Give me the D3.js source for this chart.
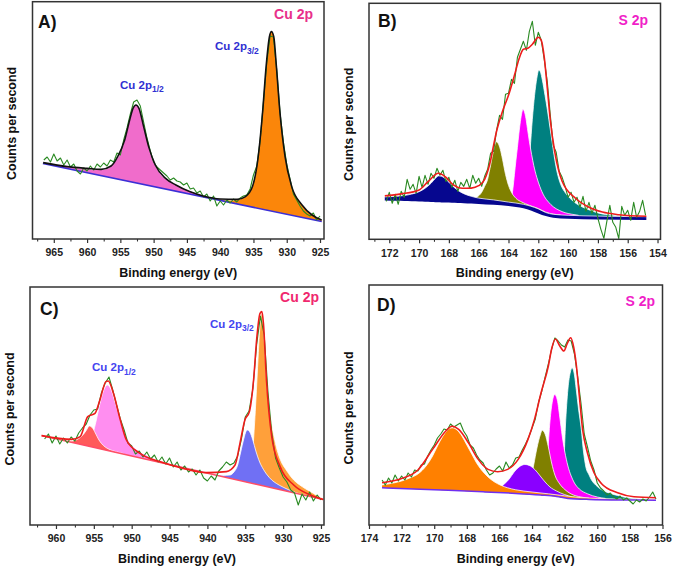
<!DOCTYPE html>
<html><head><meta charset="utf-8">
<script src="https://cdn.jsdelivr.net/npm/d3@7"></script>
<style>
body{margin:0;background:#fff}
svg{display:block}
text{font-family:"Liberation Sans",Arial,sans-serif}
</style>
</head><body>
<svg id="chart" width="675" height="568"></svg>
<script>
// ---------------- DATA (binding energy eV, intensity a.u.) ----------------
// Panel A : Cu 2p
const ticksA = [965,960,955,950,945,940,935,930,925];
const aBackground = [[966.64,37.8],[924.74,8.7]];
const aPink = [[966.6,38.2],[964,36.9],[962,35.7],[960,34.9],[958,34.5],[957,35.0],[956.2,37.0],[955.3,41.0],[954.4,48.5],[953.9,55.0],[953.4,62.0],[953.0,65.8],[952.65,67.0],[952.3,66.0],[951.9,62.0],[951.4,55.0],[950.9,48.0],[950.4,41.5],[949.8,37.0],[948.9,32.0],[948.0,29.5],[947.0,27.6],[946.0,26.0],[945.0,24.5],[944.0,23.2],[943.0,22.0],[942.0,21.0],[941.0,20.1],[940.0,19.4],[938.0,18.0],[936.0,16.6],[934.0,15.2],[932.0,13.8],[930.0,12.4],[928.0,11.0],[924.75,8.9]];
const aOrange = [[942.5,21.0],[941,20.2],[940,19.7],[938.5,19.2],[937.45,19.5],[936.6,20.3],[936.0,21.6],[935.5,23.5],[935.15,26.0],[934.75,31.5],[934.35,39.3],[934.0,50.0],[933.6,64.3],[933.1,86.0],[932.6,101.0],[932.3,103.5],[931.95,101.0],[931.55,86.0],[931.05,64.3],[930.65,51.0],[930.25,41.0],[929.75,32.5],[929.25,26.0],[928.5,20.8],[927.7,16.9],[927.0,14.3],[926.2,11.9],[925.5,10.5],[924.75,9.4]];
const aEnvelope = [[966.6,38.2],[963.0,36.2],[960,35.3],[957.9,34.8],[956.4,36.5],[955.4,41.2],[954.35,49.5],[953.6,59.5],[953.1,65.3],[952.65,67.0],[952.2,65.3],[951.5,56.2],[950.75,46.2],[949.75,37.0],[948.2,30.3],[946.65,27.0],[944.6,23.7],[942.55,21.5],[940.0,20.0],[937.45,19.8],[936.2,21.2],[935.15,26.2],[934.35,39.5],[933.6,64.5],[933.1,86.2],[932.6,101.2],[932.3,103.7],[931.95,101.2],[931.55,86.2],[931.05,64.5],[930.25,41.2],[929.25,26.2],[927.7,17.0],[926.2,12.0],[924.75,9.5]];
const rawAStart = 966.5, rawAStep = 0.5;
const rawA = [39.5,41.0,38.5,42.5,39.0,40.5,37.0,39.5,36.0,37.5,
34.0,32.5,35.5,34.0,36.5,34.5,37.5,36.0,38.0,36.5,
39.5,38.5,43.0,42.0,49.5,55.5,62.5,68.5,69.5,66.5,
58.5,50.5,44.0,38.5,36.0,34.5,33.0,31.5,29.5,30.5,
29.0,28.5,27.0,28.0,25.0,25.5,23.0,24.0,21.0,22.5,
19.0,21.5,16.5,19.0,17.0,19.5,18.0,20.0,18.5,20.5,
21.5,22.0,25.0,32.0,36.5,49.0,68.5,88.0,101.5,101.0,
84.5,63.0,48.5,37.5,30.0,22.5,19.5,16.5,14.0,12.5,
11.5,13.0,9.5,11.5];

// Panel B : S 2p
const ticksB = [172,170,168,166,164,162,160,158,156,154];
const bBackground = [[172.3,21.0],[170,20.5],[168,19.9],[166,19.3],[164.5,18.6],[163.5,17.8],[162.8,16.8],[162.2,15.2],[161.7,13.6],[161.2,12.6],[160.5,12.0],[159,11.6],[157,11.4],[154.75,11.2]];
const bNavyBase = [[172.3,19.4],[170,18.9],[168,18.3],[166,17.7],[164.5,17.0],[163.5,16.2],[162.8,15.2],[162.2,13.6],[161.7,12.0],[161.2,11.0],[160.5,10.4],[159,10.0],[157,9.8],[154.75,9.6]];
const bNavy = [[172.3,21.2],[171.5,21.5],[171.0,21.9],[170.5,22.6],[170.0,23.8],[169.6,25.5],[169.2,28.0],[168.9,30.5],[168.7,31.7],[168.5,31.5],[168.2,30.0],[167.8,27.0],[167.4,24.5],[167.0,22.8],[166.5,21.5],[166.0,20.6],[165.0,19.7],[164.0,18.6],[163.0,17.5],[162.0,15.2],[161.5,13.4],[161.0,12.5],[160.0,12.0],[158.0,11.6],[154.75,11.3]];
const bOlive = [[167.0,19.8],[166.5,20.2],[166.1,21.2],[165.8,23.5],[165.6,26.5],[165.4,30.0],[165.3,33.5],[165.2,37.0],[165.1,41.0],[165.0,44.5],[164.9,47.5],[164.8,48.8],[164.7,48.0],[164.55,45.0],[164.4,40.0],[164.2,32.5],[164.0,27.0],[163.8,23.5],[163.5,20.5],[163.1,18.6],[162.6,17.0],[162.0,15.4],[161.5,13.6],[161.0,12.6],[160.5,12.2]];
const bMagenta = [[164.1,18.3],[163.9,18.9],[163.8,20.5],[163.7,25.5],[163.6,32.5],[163.5,39.5],[163.4,46.0],[163.3,53.0],[163.2,59.0],[163.1,63.5],[163.03,65.0],[162.93,63.8],[162.83,60.5],[162.73,55.5],[162.6,49.0],[162.45,42.5],[162.3,36.8],[162.1,31.0],[161.9,26.5],[161.6,21.5],[161.3,18.5],[161.0,16.3],[160.6,14.5],[160.2,13.3],[159.8,12.6],[159.3,12.0]];
const bTeal = [[163.3,17.6],[163.1,18.5],[162.9,22.0],[162.8,27.0],[162.65,37.0],[162.55,45.0],[162.4,60.0],[162.25,72.0],[162.1,80.5],[161.96,84.7],[161.85,83.5],[161.73,79.7],[161.55,72.0],[161.39,64.7],[161.2,55.0],[161.06,48.0],[160.9,40.0],[160.72,33.0],[160.5,27.5],[160.16,23.0],[159.8,20.0],[159.48,18.0],[159.0,16.0],[158.58,14.7],[158.0,13.2],[157.0,12.0],[156.0,11.5]];
const bEnvelope = [[172.3,21.7],[171.2,22.7],[170.0,24.7],[169.4,28.8],[168.7,33.0],[168.25,31.3],[167.7,27.2],[167.1,25.5],[166.5,25.6],[166.0,26.8],[165.6,30.0],[165.2,39.5],[165.0,47.0],[164.8,54.0],[164.4,64.0],[164.0,72.0],[163.6,82.0],[163.3,90.0],[163.0,95.0],[162.7,95.5],[162.4,97.5],[162.0,101.0],[161.8,99.5],[161.6,91.0],[161.4,76.0],[161.2,60.0],[160.9,44.0],[160.4,29.0],[159.5,20.5],[158.6,16.0],[157.7,13.6],[156.6,12.3],[154.75,11.5]];
const rawBStart = 172.2, rawBStep = 0.2;
const rawB = [19.0,23.5,18.0,22.5,17.5,24.0,21.0,30.0,25.0,27.5,
23.0,31.5,26.0,32.0,27.5,33.0,30.5,35.5,32.0,34.5,
29.0,31.0,26.0,29.5,24.0,28.5,26.5,30.0,25.5,32.0,
28.0,30.5,26.5,31.5,35.0,43.0,44.0,54.5,62.0,60.0,
72.5,73.0,80.0,78.0,91.0,95.0,99.0,94.5,104.0,109.0,
97.0,103.5,99.5,90.0,79.0,62.5,47.0,43.5,34.0,31.0,
26.5,21.0,23.5,18.5,21.0,16.0,21.5,14.0,18.5,13.0,
17.0,10.5,5.0,0.5,9.0,17.0,8.5,6.0,0.3,16.5,
12.0,14.5,9.5,18.5,11.0,14.0,19.5,12.0];

// Panel C : Cu 2p
const ticksC = [960,955,950,945,940,935,930,925];
const cBackground = [[961.9,44.7],[924.7,12.8]];
const cRed = [[958.5,42.0],[958.2,41.7],[957.6,42.2],[957.0,43.2],[956.5,44.8],[956.0,47.3],[955.6,49.5],[955.2,48.6],[954.8,46.0],[954.4,43.0],[954.0,40.8],[953.5,39.0],[953.0,37.9],[952.5,37.1],[952.0,36.6],[951.0,35.6]];
const cPink = [[957.0,40.6],[956.0,40.5],[955.5,42.0],[955.1,46.0],[954.7,52.0],[954.3,59.0],[953.9,65.0],[953.5,69.0],[953.2,70.0],[952.9,69.0],[952.6,66.5],[952.2,61.5],[951.8,56.5],[951.5,52.5],[951.1,47.5],[950.7,44.0],[950.2,41.0],[949.7,38.8],[949.0,36.8],[948.0,34.8],[947.0,33.0],[946.0,31.8],[945.0,30.8],[943.0,29.0],[941.0,27.2],[939.0,25.5]];
const cBlue = [[939.0,25.3],[938.0,24.8],[937.0,25.0],[936.5,26.5],[936.0,30.0],[935.6,36.5],[935.2,43.0],[934.9,46.8],[934.7,47.5],[934.4,46.5],[934.0,42.5],[933.6,37.0],[933.1,31.5],[932.6,27.8],[932.2,25.5],[931.5,22.5],[930.9,20.8],[930.0,18.9],[929.2,17.5],[928.0,15.8],[927.0,14.9]];
const cOrange = [[936.0,22.8],[935.0,23.5],[934.5,26.0],[934.2,31.0],[933.9,43.0],[933.6,62.0],[933.3,84.0],[933.05,100.0],[932.85,105.8],[932.65,101.0],[932.45,90.0],[932.2,73.0],[931.95,62.0],[931.7,55.0],[931.3,46.0],[930.9,39.0],[930.4,33.0],[929.5,27.0],[928.6,22.5],[927.8,20.0],[927.0,18.0],[926.0,15.8],[925.2,14.0],[924.7,13.2]];
const cEnvelope = [[961.9,44.7],[957.9,42.8],[956.8,44.2],[955.8,54.2],[954.85,55.8],[954.2,62.5],[953.4,71.7],[953.1,72.0],[952.4,65.8],[951.5,52.5],[950.7,42.5],[948.9,35.8],[946.3,31.7],[943.2,28.3],[940.1,26.2],[937.5,26.7],[936.35,30.0],[935.7,40.8],[935.05,52.5],[934.45,56.7],[933.9,72.5],[933.5,92.5],[933.05,105.8],[932.8,106.7],[932.6,100.8],[932.2,72.5],[931.5,44.2],[930.4,29.2],[928.6,20.0],[926.4,15.0],[924.7,12.8]];
const rawCStart = 961.5, rawCStep = 0.5;
const rawC = [43.0,45.5,41.0,44.5,40.5,43.5,41.0,44.0,42.0,46.0,
48.5,50.5,55.0,57.5,58.0,66.0,71.0,74.0,67.5,60.0,
53.0,47.5,41.0,39.5,35.5,37.0,34.0,36.5,33.0,35.0,
31.5,34.0,30.5,33.5,29.0,31.5,27.5,29.5,26.5,28.0,
25.0,27.5,23.5,22.0,24.5,22.5,27.0,29.0,31.5,30.0,
31.0,34.5,43.0,54.0,57.0,68.0,90.0,104.5,95.0,66.5,
46.0,33.5,28.5,24.0,21.5,17.5,16.0,10.0,15.5,12.5,
16.5,12.0,15.0,12.5];

// Panel D : S 2p
const ticksD = [174,172,170,168,166,164,162,160,158,156];
const dBackground = [[173.2,18.6],[170.0,17.6],[167.0,16.6],[165.0,15.8],[163.5,15.0],[162.5,14.3],[161.8,13.3],[160.5,12.8],[158.0,12.5],[156.4,12.4]];
const dOrange = [[173.2,20.0],[172.5,21.0],[172.0,22.0],[171.5,23.5],[171.0,25.5],[170.5,29.5],[170.1,34.5],[169.8,39.5],[169.5,44.0],[169.2,47.3],[168.9,48.6],[168.6,47.5],[168.3,44.4],[168.0,40.0],[167.7,35.5],[167.4,31.0],[167.1,27.5],[166.7,24.0],[166.3,21.5],[165.9,19.8],[165.5,18.6],[165.0,17.6],[164.0,16.5],[163.0,15.6],[162.0,14.6],[161.0,13.7],[160.0,13.3],[158.0,12.9],[156.4,12.7]];
const dPurple = [[166.5,17.2],[166.0,18.5],[165.7,20.5],[165.4,23.0],[165.1,26.5],[164.8,29.0],[164.44,30.25],[164.1,29.5],[163.8,27.5],[163.5,24.5],[163.2,21.5],[162.9,19.0],[162.5,17.0],[162.0,15.2],[161.5,14.0],[161.0,13.3]];
const dOlive = [[164.6,16.5],[164.3,19.0],[164.1,22.0],[163.9,30.0],[163.7,38.5],[163.5,45.0],[163.38,47.4],[163.2,45.5],[163.0,39.0],[162.8,31.0],[162.6,25.0],[162.3,20.5],[162.0,17.8],[161.6,15.5],[161.0,14.0],[160.5,13.4]];
const dMagenta = [[163.4,16.0],[163.2,20.0],[163.05,35.0],[162.9,52.0],[162.75,62.0],[162.61,65.25],[162.45,62.5],[162.3,54.0],[162.15,44.5],[162.0,37.0],[161.8,29.5],[161.6,24.5],[161.4,21.0],[161.1,18.0],[160.6,15.6],[160.0,14.0],[159.5,13.3]];
const dTeal = [[162.3,15.0],[162.1,22.0],[161.95,50.0],[161.8,68.0],[161.65,76.5],[161.55,78.6],[161.4,75.0],[161.29,67.75],[161.15,58.0],[160.98,47.75],[160.85,37.0],[160.7,29.0],[160.5,25.0],[160.37,22.75],[160.1,20.0],[159.76,17.75],[159.3,16.0],[158.75,14.75],[158.14,13.6],[157.5,13.0]];
const dEnvelope = [[173.2,21.1],[172.0,23.2],[171.0,27.5],[170.1,37.8],[169.3,46.9],[168.9,49.4],[168.5,47.8],[167.9,41.1],[167.3,32.8],[166.7,27.8],[166.1,26.6],[165.5,27.8],[164.85,32.8],[164.25,42.8],[163.85,52.8],[163.45,66.0],[163.0,79.5],[162.8,88.0],[162.57,93.0],[162.3,89.5],[162.05,87.0],[161.85,90.5],[161.63,93.6],[161.45,89.0],[161.3,81.0],[161.1,64.4],[160.9,47.8],[160.6,36.0],[160.2,26.1],[159.75,20.8],[158.75,16.1],[157.75,14.1],[156.4,13.6]];
const rawDStart = 173.2, rawDStep = 0.2;
const rawD = [22.5,20.0,23.5,21.0,25.0,22.0,24.5,22.5,26.0,24.0,
27.5,27.0,30.0,30.5,34.5,37.5,40.0,43.5,45.5,48.0,
47.5,50.5,49.0,50.0,51.0,47.0,44.5,40.0,38.5,35.0,
32.5,31.0,27.5,25.0,26.0,28.0,29.5,27.0,31.5,28.5,
30.0,33.5,34.0,37.5,40.5,44.0,48.5,53.0,61.5,67.0,
74.0,80.5,88.0,93.5,92.0,90.0,89.0,92.5,92.0,85.5,
74.0,61.0,45.5,39.0,32.0,27.5,21.0,18.5,17.0,15.0,
16.0,14.0,13.0,14.5,12.5,13.5,12.0,10.5,12.5,11.5,
13.0,12.0,14.0,16.5,13.0];

// ---------------- RENDERING ----------------
const seq = (start, step, vals) => vals.map((v, i) => [+(start - i * step).toFixed(3), v]);

const panels = [
  { id:"A", left:32.5, right:324, top:1.7, bottom:239, domain:[968.2,924.4], vmax:118.65,
    ticks:ticksA, minorStep:2.5, bg:aBackground,
    comps:[{data:aOrange, color:"#fb860a"},{data:aPink, color:"#f06ccb"}],
    bgLine:"#3b2fd6", outline:false, raw:seq(rawAStart,rawAStep,rawA), env:aEnvelope, envColor:"#111",
    letter:"A)", letterPos:[38,28],
    title:{text:"Cu 2p", x:313, y:19, color:"#e8308a"},
    peaks:[{main:"Cu 2p", sub:"3/2", x:215, y:50},{main:"Cu 2p", sub:"1/2", x:120, y:88.5}], peakColor:"#3030d2" },
  { id:"B", left:369, right:660.5, top:3.3, bottom:239.3, domain:[173.36,153.8], vmax:118,
    ticks:ticksB, minorStep:1, bg:bBackground,
    comps:[{data:bTeal, color:"#008080"},{data:bMagenta, color:"#ff00ff"},{data:bOlive, color:"#808000"},{data:bNavy, color:"#06078f", base:bNavyBase}],
    bgLine:null, outline:true, raw:seq(rawBStart,rawBStep,rawB), env:bEnvelope, envColor:"#ee1c1c",
    letter:"B)", letterPos:[378,27],
    title:{text:"S 2p", x:648, y:24.5, color:"#f01fc8"}, peaks:[] },
  { id:"C", left:30, right:324, top:287, bottom:525, domain:[963.43,924.6], vmax:119,
    ticks:ticksC, minorStep:2.5, bg:cBackground,
    comps:[{data:cOrange, color:"#ffa03a"},{data:cBlue, color:"#7070f4"},{data:cPink, color:"#ff8ef0"},{data:cRed, color:"#ff5a5a"}],
    bgLine:"#ff4d66", outline:true, raw:seq(rawCStart,rawCStep,rawC), env:cEnvelope, envColor:"#ee1c1c",
    letter:"C)", letterPos:[40,315],
    title:{text:"Cu 2p", x:319, y:302, color:"#f0286e"},
    peaks:[{main:"Cu 2p", sub:"3/2", x:210, y:327.5},{main:"Cu 2p", sub:"1/2", x:92, y:371}], peakColor:"#4444f0" },
  { id:"D", left:369, right:662.5, top:285, bottom:525, domain:[174,156], vmax:120,
    ticks:ticksD, minorStep:1, bg:dBackground,
    comps:[{data:dTeal, color:"#008080"},{data:dMagenta, color:"#ff00ff"},{data:dOlive, color:"#808000"},{data:dPurple, color:"#8a00ff"},{data:dOrange, color:"#ff8000"}],
    bgLine:"#6f2ff0", outline:true, raw:seq(rawDStart,rawDStep,rawD), env:dEnvelope, envColor:"#ee1c1c",
    letter:"D)", letterPos:[377,311],
    title:{text:"S 2p", x:655, y:306, color:"#f01fc8"}, peaks:[] }
];

const svg = d3.select("#chart");
const pieceScale = arr => d3.scaleLinear().domain(arr.map(d => d[0])).range(arr.map(d => d[1])).clamp(true);

panels.forEach(p => {
  const x = d3.scaleLinear().domain(p.domain).range([p.left, p.right]);
  const y = d3.scaleLinear().domain([0, p.vmax]).range([p.bottom, p.top]);
  const g = svg.append("g");
  const clipId = "clip-" + p.id;
  g.append("clipPath").attr("id", clipId).append("rect")
    .attr("x", p.left).attr("y", p.top).attr("width", p.right - p.left).attr("height", p.bottom - p.top);
  const plot = g.append("g").attr("clip-path", `url(#${clipId})`);
  const bgS = pieceScale(p.bg);

  p.comps.forEach(c => {
    const baseS = c.base ? pieceScale(c.base) : bgS;
    const area = d3.area().x(d => x(d[0])).y0(d => y(baseS(d[0]))).y1(d => y(d[1])).curve(d3.curveMonotoneX);
    plot.append("path").datum(c.data).attr("d", area).attr("fill", c.color);
    if (p.outline) {
      const ln = d3.line().x(d => x(d[0])).y(d => y(d[1])).curve(d3.curveMonotoneX);
      plot.append("path").datum(c.data).attr("d", ln).attr("fill", "none")
        .attr("stroke", "#fff").attr("stroke-width", 0.9).attr("stroke-opacity", 0.85);
    }
  });

  if (p.bgLine) {
    plot.append("path").datum(p.bg)
      .attr("d", d3.line().x(d => x(d[0])).y(d => y(d[1])).curve(d3.curveMonotoneX))
      .attr("fill", "none").attr("stroke", p.bgLine).attr("stroke-width", 1.5);
  }
  plot.append("path").datum(p.raw)
    .attr("d", d3.line().x(d => x(d[0])).y(d => y(d[1])))
    .attr("fill", "none").attr("stroke", "#2a8a22").attr("stroke-width", 1.1).attr("stroke-linejoin", "round");
  plot.append("path").datum(p.env)
    .attr("d", d3.line().x(d => x(d[0])).y(d => y(d[1])).curve(d3.curveMonotoneX))
    .attr("fill", "none").attr("stroke", p.envColor).attr("stroke-width", 1.6);

  // axes
  const lo = Math.min(...p.domain), hi = Math.max(...p.domain);
  const minor = d3.range(Math.ceil(lo / p.minorStep) * p.minorStep, hi, p.minorStep)
    .filter(v => !p.ticks.some(t => Math.abs(t - v) < 1e-6));
  const ax = g.append("g").attr("transform", `translate(0,${p.bottom})`)
    .call(d3.axisBottom(x).tickValues(p.ticks).tickSize(4).tickPadding(6).tickFormat(d3.format("d")));
  ax.select(".domain").remove();
  ax.selectAll("line").attr("stroke", "#333").attr("stroke-width", 1.2);
  ax.selectAll("text").attr("font-size", 10.5).attr("font-weight", "bold").attr("fill", "#222")
    .attr("font-family", "'Liberation Sans', Arial, sans-serif");
  const axm = g.append("g").attr("transform", `translate(0,${p.bottom})`)
    .call(d3.axisBottom(x).tickValues(minor).tickSize(2.5).tickFormat(""));
  axm.select(".domain").remove();
  axm.selectAll("line").attr("stroke", "#333").attr("stroke-width", 1.1);

  g.append("rect").attr("x", p.left).attr("y", p.top)
    .attr("width", p.right - p.left).attr("height", p.bottom - p.top)
    .attr("fill", "none").attr("stroke", "#333").attr("stroke-width", 1.5);

  // axis titles
  g.append("text").attr("x", (p.left + p.right) / 2).attr("y", p.bottom + 37.5)
    .attr("text-anchor", "middle").attr("font-size", 12.5).attr("font-weight", "bold").attr("fill", "#111")
    .text("Binding energy (eV)");
  g.append("text")
    .attr("transform", `translate(${p.left - 20.5},${(p.top + p.bottom) / 2 + 3}) rotate(-90)`)
    .attr("text-anchor", "middle").attr("dominant-baseline", "central")
    .attr("font-size", 12.5).attr("font-weight", "bold").attr("fill", "#111")
    .text("Counts per second");

  // panel letter
  g.append("text").attr("x", p.letterPos[0]).attr("y", p.letterPos[1])
    .attr("font-family", "'DejaVu Sans', sans-serif").attr("font-size", 17.5).attr("font-weight", "bold")
    .attr("fill", "#111").text(p.letter);
  // element label
  g.append("text").attr("x", p.title.x).attr("y", p.title.y).attr("text-anchor", "end")
    .attr("font-size", 14).attr("font-weight", "bold").attr("fill", p.title.color).text(p.title.text);
  // peak labels
  p.peaks.forEach(pk => {
    const t = g.append("text").attr("x", pk.x).attr("y", pk.y)
      .attr("font-size", 11.5).attr("font-weight", "bold").attr("fill", p.peakColor);
    t.append("tspan").text(pk.main);
    t.append("tspan").attr("dy", 3.5).attr("font-size", 8.5).text(pk.sub);
  });
});
</script>
</body></html>
